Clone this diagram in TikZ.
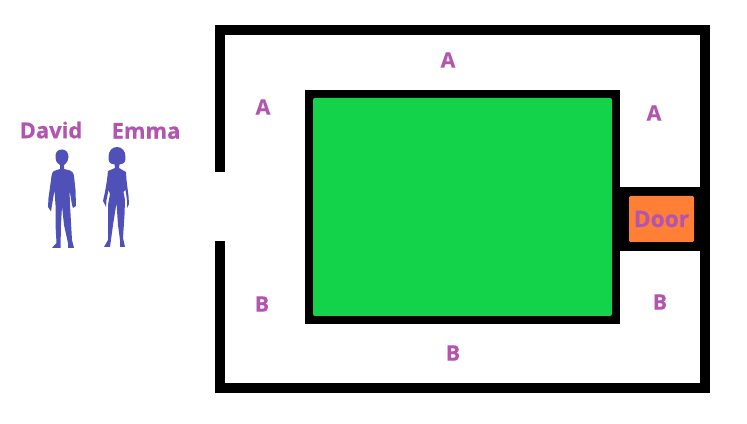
\documentclass[tikz,border=0pt]{standalone}
\usepackage{fontspec}
\setmainfont{Open Sans}[BoldFeatures={FakeBold=0.5}]
\usepackage{xcolor}
\usetikzlibrary{positioning}
\definecolor{lawn}{HTML}{12D34A}
\definecolor{orangedoor}{HTML}{FF7F36}
\definecolor{plum}{HTML}{B155B0}
\definecolor{indigo}{HTML}{4F51B8}
\tikzset{
  wall/.style={draw=black,line width=7.5pt,miter limit=10},
  blockbox/.style={
    fill=black,inner sep=0pt,outer sep=0pt,
    minimum width=236.25pt,minimum height=175.5pt
  },
  lawnbox/.style={
    rounded corners=1.5pt,fill=lawn,inner sep=0pt,
    minimum width=224.25pt,minimum height=163.5pt
  },
  doorframe/.style={
    fill=black,inner sep=0pt,outer sep=0pt,
    minimum width=60pt,minimum height=48pt
  },
  doorbox/.style={
    rounded corners=1pt,fill=orangedoor,inner sep=0pt,
    minimum width=48.75pt,minimum height=34.5pt,
    font=\bfseries\fontsize{17pt}{17pt}\selectfont,text=plum
  },
  roomlabel/.style={font=\bfseries\fontsize{16pt}{16pt}\selectfont,text=plum,inner sep=0pt},
  namelabel/.style={font=\bfseries\fontsize{16.5pt}{16.5pt}\selectfont,text=plum,inner sep=0pt},
  person/.style={fill=indigo,draw=none}
}
\begin{document}
\begin{tikzpicture}[x=.75pt,y=-.75pt]
\useasboundingbox (0,0) rectangle (747,424);

\coordinate (gaptop) at (220,172);
\coordinate (gapbottom) at (220,241);
\draw[wall] (gaptop) -- (220,30) -- (705,30) -- (705,388) -- (220,388) -- (gapbottom);

\node[blockbox] (block) at (462.5,207) {};
\node[lawnbox] (lawn) at (block.center) {};
\node[doorframe,right=0pt of block.east,yshift=-9pt,anchor=west] (frame) {};
\node[doorbox] (door) at (661.5,219) {Door};

\node[roomlabel] (atop) at (448,60) {A};
\node[roomlabel] (aleft) at (263,107) {A};
\node[roomlabel] (aright) at (654,113) {A};
\node[roomlabel] (bleft) at (262,304) {B};
\node[roomlabel] (bbottom) at (453,353) {B};
\node[roomlabel] (bright) at (660,302) {B};

\node[namelabel] (david) at (51,130) {David};
\node[namelabel] (emma) at (146,131) {Emma};

% David
\fill[person] (62,149.5) .. controls (57,149.5) and (55,153) .. (55.5,158)
  .. controls (56,162) and (58,164) .. (60,165) -- (60,169) -- (54,171)
  .. controls (52,172) and (51.5,175) .. (51,180) -- (48.5,198) -- (48,207) -- (51,211.5)
  -- (52,205) -- (54.5,190) -- (55.5,205) -- (55.5,225) -- (56.5,243) -- (52,248) -- (60.5,248)
  -- (61,225) -- (62,206) -- (64,225) -- (68,243) -- (68,248) -- (74,248) -- (72,240)
  -- (70,205) -- (69.5,190) -- (72,205) -- (73,208) -- (76,206) -- (75.5,190)
  -- (74,176) .. controls (73.5,172.5) and (72,171.5) .. (70,170.5) -- (64,169) -- (64,165)
  .. controls (67,163) and (68.5,160) .. (68.5,157) .. controls (68.5,152.5) and (66,149.5) .. (62,149.5) -- cycle;

% Emma
\fill[person] (117,147) .. controls (112,147) and (108.5,151) .. (108.5,157)
  .. controls (108.5,161) and (109,164) .. (114.5,164.5) -- (115,168) -- (108,171)
  -- (107,180) -- (105,192) -- (103,201) -- (106,207) -- (106.5,200) -- (108.5,190) -- (110,194)
  -- (108,205) -- (108,225) -- (108,240) -- (104,247) -- (110,247) -- (113,225)
  -- (116.5,203) -- (118,225) -- (120,240) -- (120,247) -- (125,247) -- (123,238)
  -- (124.5,215) -- (125,200) -- (123.5,192) -- (125.5,190) -- (127,200) -- (127,208) -- (129,204)
  -- (128.5,196) -- (126.5,180) -- (126,172) -- (119,168) -- (119.5,164.5)
  .. controls (125,164) and (125.5,161) .. (125.5,157) .. controls (125.5,151) and (122,147) .. (117,147) -- cycle;
\end{tikzpicture}
\end{document}
